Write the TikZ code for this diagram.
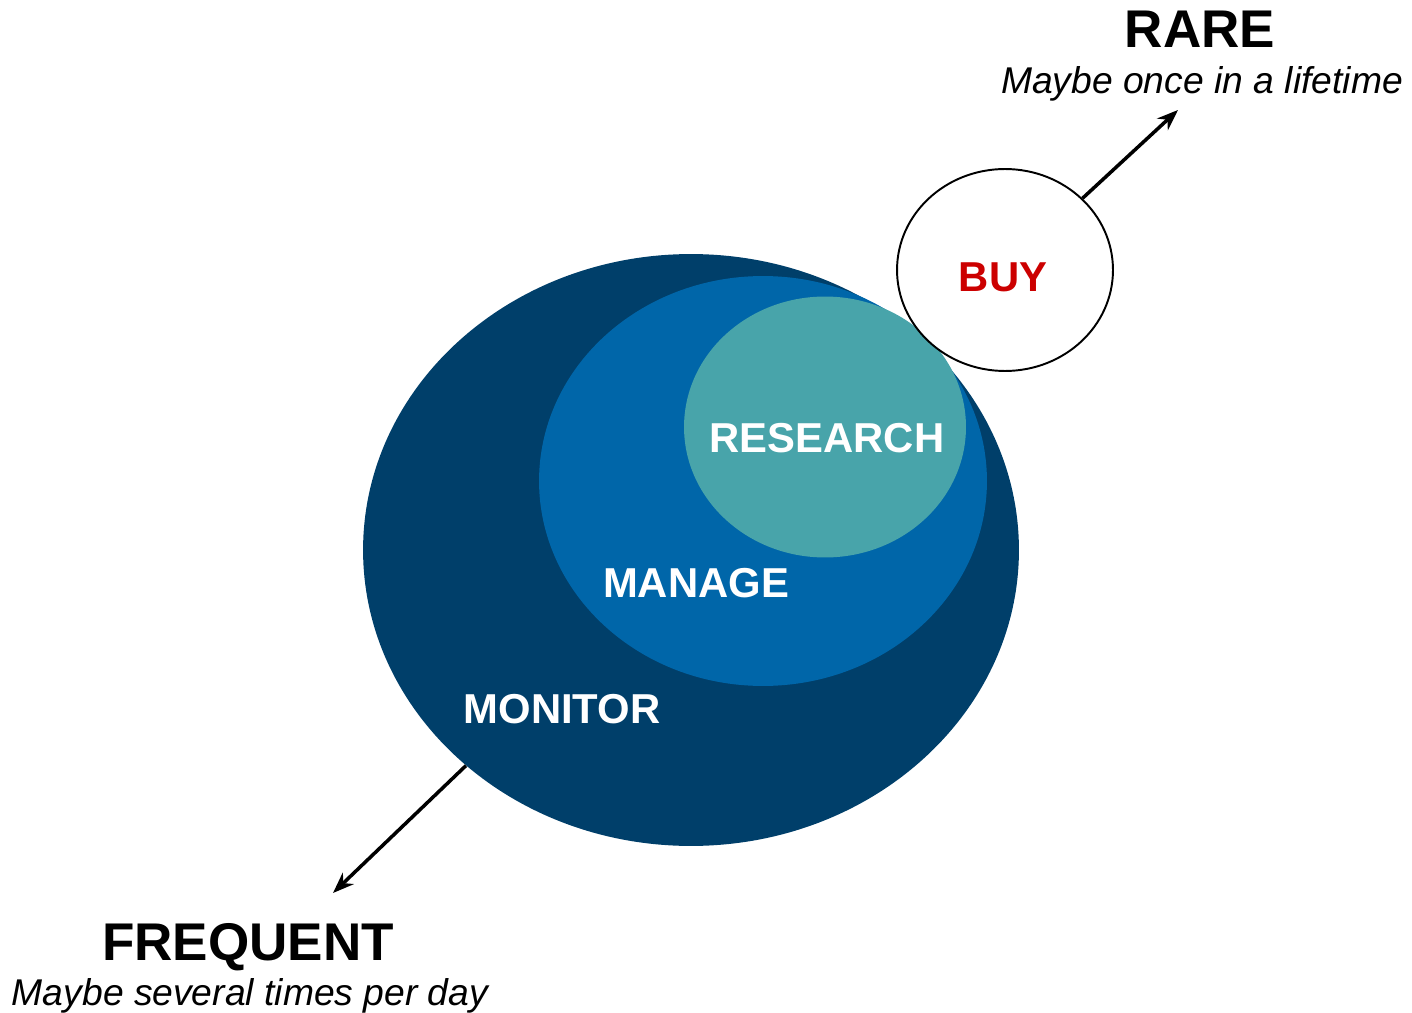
\documentclass[tikz,border=0pt]{standalone}
\usepackage{fontspec}
\setmainfont{Liberation Sans}
\usetikzlibrary{shapes.geometric,arrows.meta}

\definecolor{monitorblue}{HTML}{003F6A}
\definecolor{manageblue}{HTML}{0066A9}
\definecolor{researchteal}{HTML}{48A4AA}
\definecolor{buyred}{HTML}{CC0000}

\begin{document}
\begin{tikzpicture}[x=0.02cm,y=-0.02cm,
    blob/.style={ellipse,inner sep=0pt},
    tag/.style={anchor=base,text=white,font=\fontsize{23.8}{26}\selectfont\bfseries},
    headline/.style={anchor=base,font=\fontsize{30.2}{34}\selectfont\bfseries},
    subline/.style={anchor=base,font=\fontsize{21.2}{25}\selectfont\itshape},
    pointer/.style={-{Stealth[length=12pt,width=9pt]},line width=2pt}]
\useasboundingbox (0,0) rectangle (1412,1013);

% Nested ellipses
\node[blob,fill=monitorblue,minimum width=13.12cm,minimum height=11.84cm] (monitor) at (691,550) {};
\node[blob,fill=manageblue,minimum width=8.96cm,minimum height=8.2cm] (manage) at (763,481) {};
\node[blob,fill=researchteal,minimum width=5.64cm,minimum height=5.22cm] (research) at (825,427) {};

\node[tag] (monitortext) at (562,723) {MONITOR};
\node[tag] (managetext) at (696,597) {MANAGE};
\node[tag] (researchtext) at (827,452) {RESEARCH};

% Buy circle
\node[blob,draw,fill=white,line width=1.1pt,minimum width=4.32cm,minimum height=4.04cm] (buy) at (1005,270) {};
\node[tag,text=buyred] (buytext) at (1003,292) {BUY};

% Frequency labels
\node[headline] (rare) at (1200,48) {RARE};
\node[subline] (raresub) at (1202,94) {Maybe once in a lifetime};
\node[headline] (frequent) at (248,960) {FREQUENT};
\node[subline] (frequentsub) at (250,1005) {Maybe several times per day};

\coordinate (rareend) at (1178,110);
\coordinate (frequentend) at (333,893);
\draw[pointer] (buy) -- (rareend);
\draw[pointer] (monitor) -- (frequentend);
\end{tikzpicture}
\end{document}
